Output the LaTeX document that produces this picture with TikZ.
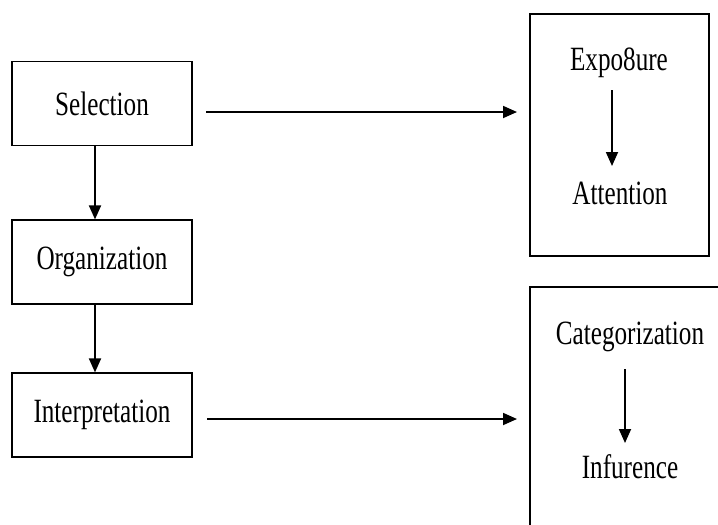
\documentclass[tikz,border=0pt]{standalone}
\usepackage{fontspec}
\setmainfont[FakeStretch=0.74]{Liberation Serif}
\usetikzlibrary{arrows.meta}
\begin{document}
\begin{tikzpicture}[x=1pt,y=-1pt,
  stage/.style={draw, line width=1.2pt, minimum width=180pt, minimum height=84pt, inner sep=0pt},
  lbl/.style={inner sep=0pt, font=\fontsize{34}{37}\selectfont},
  arr/.style={line width=1.8pt, -{Triangle[length=14pt,width=12pt]}},
  frame/.style={line width=1.2pt}]
  \useasboundingbox (0,0) rectangle (718,525);

  % left column of stages
  \node[stage, lbl] (sel) at (102,103.5) {Selection};
  \node[stage, lbl] (org) at (102,262) {Organization};
  \node[stage, lbl] (int) at (102,415) {Interpretation};

  % upper right panel
  \draw[frame] (530,14) rectangle (709,256);
  \node[lbl] (exp) at (619,63) {Expo8ure};
  \node[lbl] (att) at (620,193) {Attention};

  % lower right panel, open to the right and below
  \draw[frame] (718,287) -- (530,287) -- (530,525);
  \node[lbl] (cat) at (630,337) {Categorization};
  \node[lbl] (inf) at (630,467) {Infurence};

  % anchor points for the connectors
  \coordinate (vx) at (95,0);
  \coordinate (ta) at (206,112);
  \coordinate (tb) at (517,112);
  \coordinate (ba) at (207,419);
  \coordinate (bb) at (517,419);
  \coordinate (e1) at (612,90);
  \coordinate (e2) at (612,166);
  \coordinate (c1) at (625,369);
  \coordinate (c2) at (625,443);

  \draw[arr] (sel.south -| vx) -- (org.north -| vx);
  \draw[arr] (org.south -| vx) -- (int.north -| vx);
  \draw[arr] (ta) -- (tb);
  \draw[arr] (ba) -- (bb);
  \draw[arr] (e1) -- (e2);
  \draw[arr] (c1) -- (c2);
\end{tikzpicture}
\end{document}
